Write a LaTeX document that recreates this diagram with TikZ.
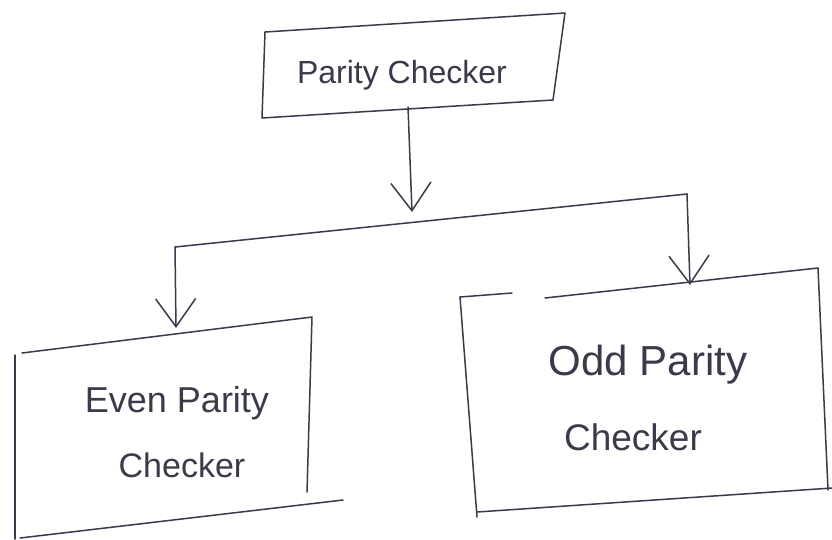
\documentclass[tikz,border=0pt]{standalone}
\usepackage{fontspec}
\setmainfont{Liberation Sans}
\usetikzlibrary{arrows.meta}
\definecolor{ink}{HTML}{3A3A4A}
\begin{document}
\begin{tikzpicture}[x=1pt,y=-1pt,
  pen/.style={draw=ink,line width=1.5pt,line cap=round,line join=round},
  tip/.style={-{Straight Barb[length=28pt,width=40pt,line width=1.5pt]}},
  lbl/.style={text=ink,inner sep=0pt,anchor=base}]
\fill[white] (0,0) rectangle (832,539);
\useasboundingbox (0,0) rectangle (832,539);
% top box
\coordinate (p1) at (265,32);
\coordinate (p2) at (565,13);
\coordinate (p3) at (553,100);
\coordinate (p4) at (262,118);
\draw[pen] (p1)--(p2)--(p3)--(p4)--cycle;
\node[lbl,font=\fontsize{32}{36}\selectfont] (parity) at (402,83) {Parity Checker};
% connectors
\coordinate (ptop) at (408,107);
\coordinate (ctip) at (412,212);
\coordinate (bl) at (175,247);
\coordinate (br) at (687,194);
\coordinate (lt) at (176,328);
\coordinate (rt) at (690,285);
\draw[pen,tip] (ptop) -- (ctip);
\draw[pen] (bl) -- (br);
\draw[pen,tip] (bl) -- (lt);
\draw[pen,tip] (br) -- (rt);
% left box
\coordinate (e1) at (22,353);
\coordinate (e2) at (312,317);
\coordinate (e3) at (307,492);
\coordinate (e4) at (343,500);
\coordinate (e5) at (20,538);
\coordinate (e6) at (15,355);
\coordinate (e7) at (15,539);
\draw[pen] (e1)--(e2)--(e3);
\draw[pen] (e4)--(e5);
\draw[pen] (e6)--(e7);
\node[lbl,font=\fontsize{36}{40}\selectfont] (even) at (177,412) {Even Parity};
\node[lbl,font=\fontsize{34}{38}\selectfont] (evenc) at (182,477) {Checker};
% right box
\coordinate (o1) at (460,297);
\coordinate (o2) at (512,293);
\coordinate (o3) at (545,298);
\coordinate (o4) at (818,268);
\coordinate (o5) at (828,490);
\coordinate (o6) at (832,488);
\coordinate (o7) at (477,512);
\coordinate (o8) at (477,517);
\draw[pen] (o1)--(o2);
\draw[pen] (o3)--(o4)--(o5);
\draw[pen] (o6)--(o7);
\draw[pen] (o1)--(o8);
\node[lbl,font=\fontsize{42}{46}\selectfont] (odd) at (648,375) {Odd Parity};
\node[lbl,font=\fontsize{37}{41}\selectfont] (oddc) at (633,450) {Checker};
\end{tikzpicture}
\end{document}
